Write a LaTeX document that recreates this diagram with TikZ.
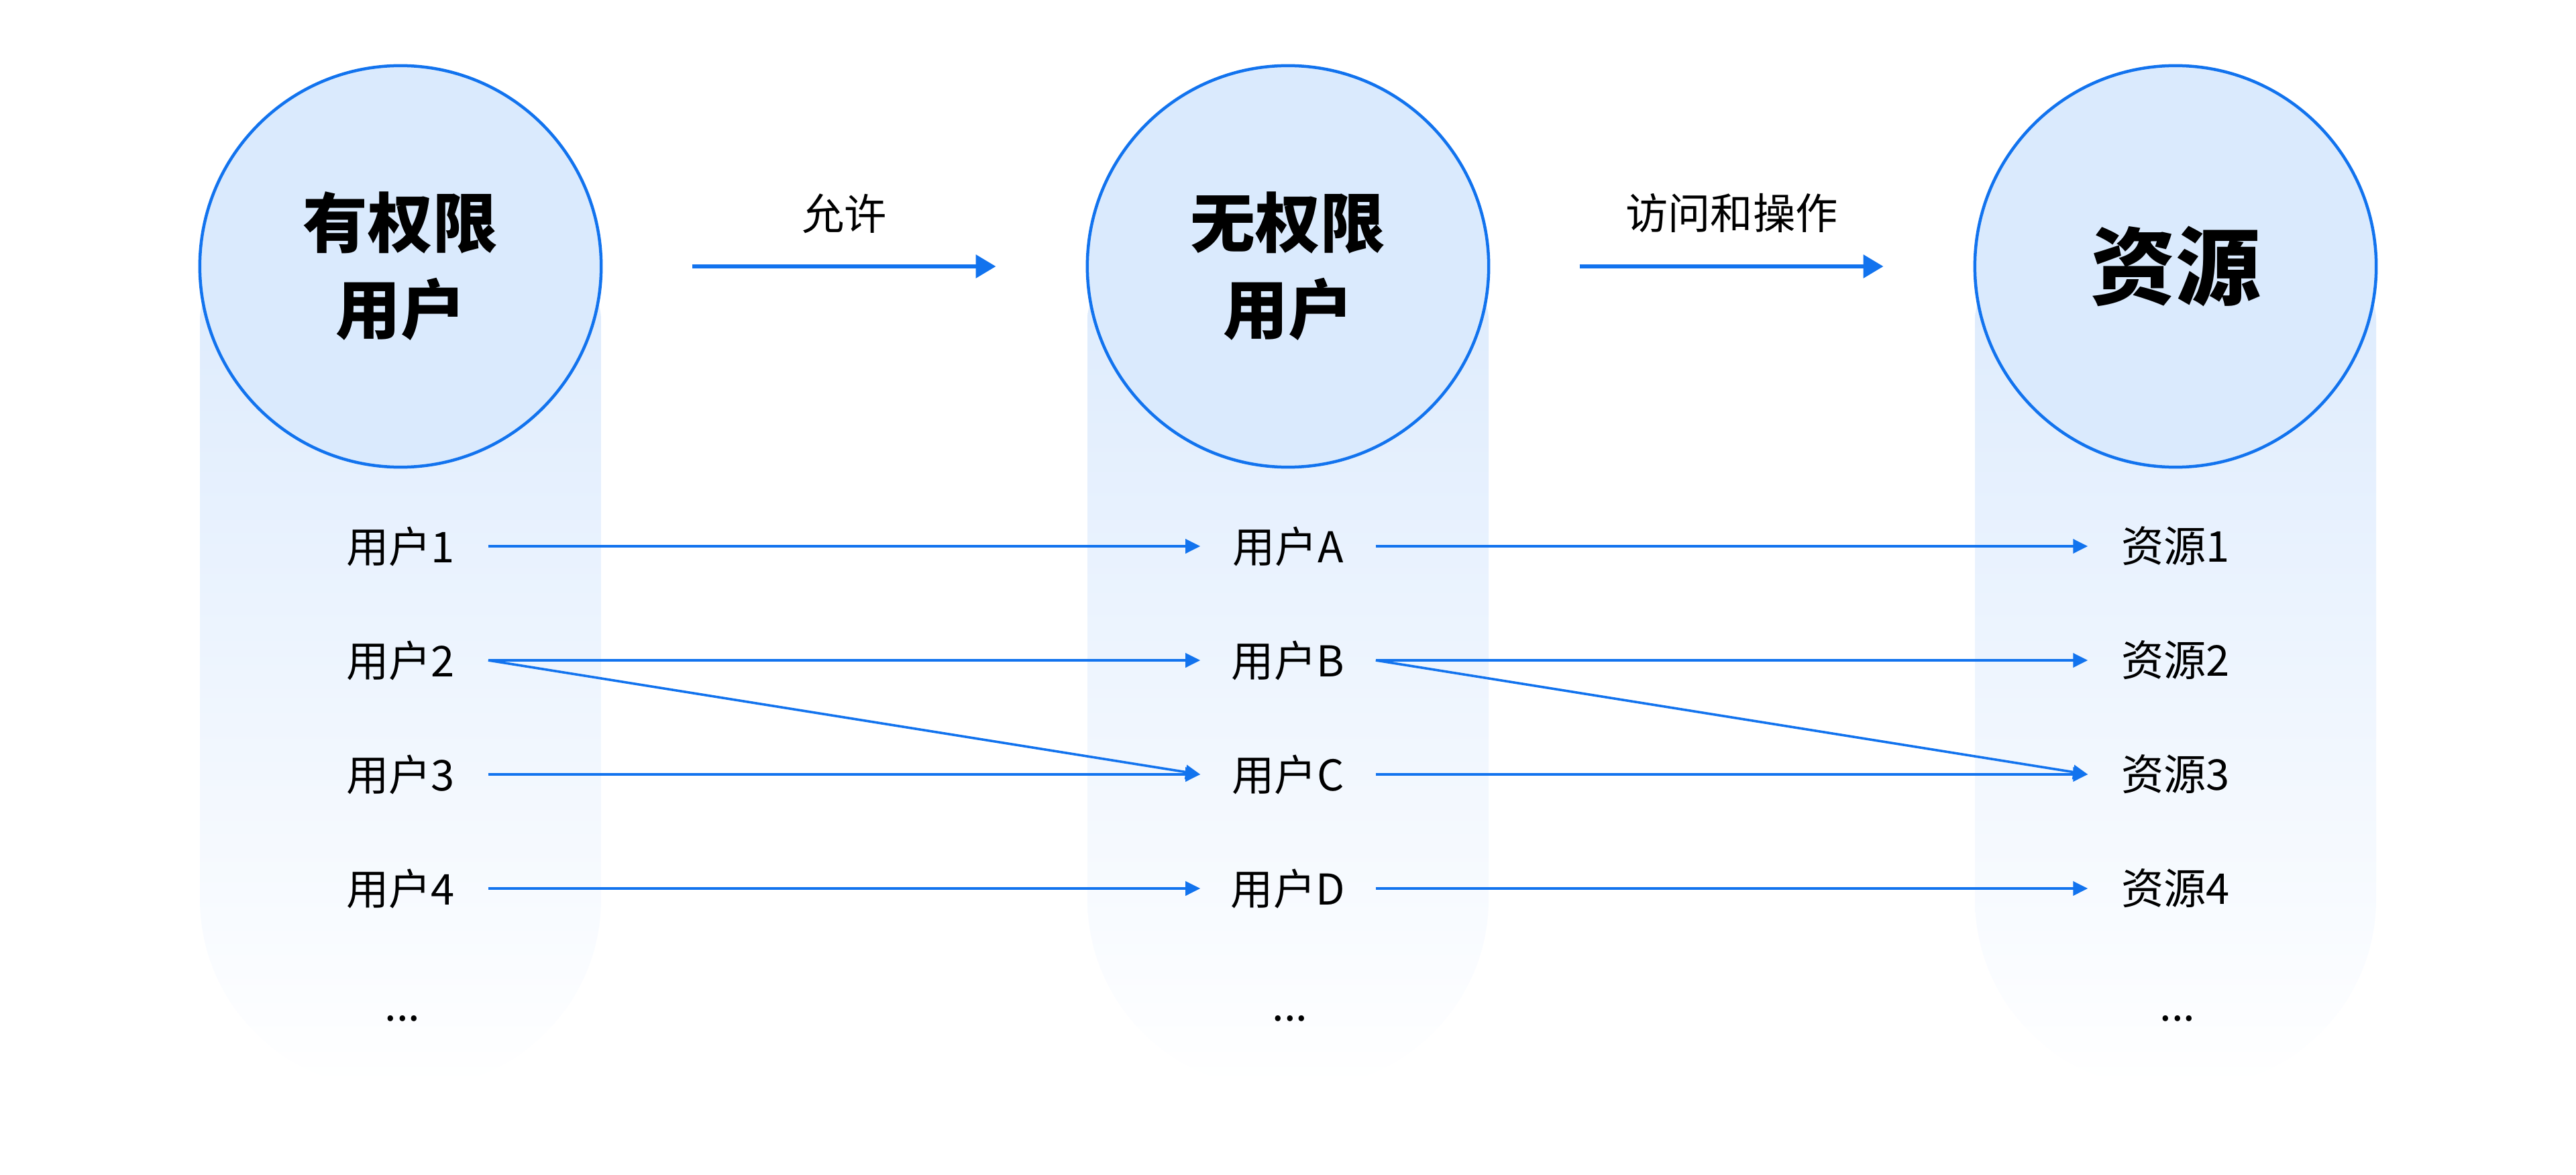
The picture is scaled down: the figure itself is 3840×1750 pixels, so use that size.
\documentclass[tikz,border=0pt]{standalone}
\usepackage{fontspec}
\setmainfont{Noto Sans CJK SC}
\usetikzlibrary{arrows.meta}
\definecolor{myblue}{HTML}{1273EE}
\definecolor{circfill}{HTML}{DAEAFD}
\definecolor{coltop}{HTML}{DDEBFD}
\definecolor{colmid}{HTML}{EEF5FE}
\tikzset{
  bigcircle/.style={circle, draw=myblue, line width=0.045cm, fill=circfill, minimum size=5.98cm, inner sep=0pt, align=center, text=black},
  bigtext/.style={font=\fontsize{27.5pt}{36.7pt}\selectfont\bfseries},
  hugetext/.style={font=\fontsize{36pt}{40pt}\selectfont\bfseries},
  rowlabel/.style={font=\fontsize{18pt}{20pt}\selectfont, minimum width=2.6cm, inner sep=0pt, text=black},
  toplabel/.style={font=\fontsize{18pt}{20pt}\selectfont, inner sep=0pt, text=black},
  toparrow/.style={draw=myblue, line width=0.06cm, -{Triangle[length=0.3cm,width=0.34cm]}, shorten <=1.33cm, shorten >=1.34cm},
  rowarrow/.style={draw=myblue, line width=0.036cm, -{Triangle[length=0.22cm,width=0.21cm]}},
}
\newcommand{\colshape}[1]{%
  \path[top color=coltop, middle color=colmid, bottom color=white]
    ({#1-299},1273) -- ({#1-299},410) arc[start angle=180,end angle=270,radius=280]
    -- ({#1+19},130) arc[start angle=270,end angle=360,radius=280]
    -- ({#1+299},1273) arc[start angle=0,end angle=90,radius=80]
    -- ({#1-219},1353) arc[start angle=90,end angle=180,radius=80] -- cycle;}
\begin{document}
\begin{tikzpicture}[x=0.01cm,y=0.01cm]
\useasboundingbox (0,0) rectangle (3840,1750);
\fill[white] (0,0) rectangle (3840,1750);
\colshape{597}
\colshape{1920}
\colshape{3243}
% circles
\node[bigcircle, bigtext] (c1) at (597,1353) {有权限\\用户};
\node[bigcircle, bigtext] (c2) at (1920,1353) {无权限\\用户};
\node[bigcircle, hugetext] (c3) at (3243,1353) {资源};
% top arrows
\draw[toparrow] (c1.east) -- (c2.west) node[toplabel, midway, yshift=0.79cm] (l1) {允许};
\draw[toparrow] (c2.east) -- (c3.west) node[toplabel, midway, yshift=0.79cm] (l2) {访问和操作};
% rows
\node[rowlabel] (u1) at (597,936) {用户1};
\node[rowlabel] (u2) at (597,766) {用户2};
\node[rowlabel] (u3) at (597,596) {用户3};
\node[rowlabel] (u4) at (597,426) {用户4};
\node[rowlabel] (ud) at (600,232) {...};
\node[rowlabel] (ua) at (1920,936) {用户A};
\node[rowlabel] (ub) at (1920,766) {用户B};
\node[rowlabel] (uc) at (1920,596) {用户C};
\node[rowlabel] (udd) at (1920,426) {用户D};
\node[rowlabel] (ue) at (1923,232) {...};
\node[rowlabel] (r1) at (3243,936) {资源1};
\node[rowlabel] (r2) at (3243,766) {资源2};
\node[rowlabel] (r3) at (3243,596) {资源3};
\node[rowlabel] (r4) at (3243,426) {资源4};
\node[rowlabel] (rd) at (3246,232) {...};
% row arrows
\draw[rowarrow] (u1.east) -- (ua.west);
\draw[rowarrow] (u2.east) -- (ub.west);
\draw[rowarrow] (u2.east) -- (uc.west);
\draw[rowarrow] (u3.east) -- (uc.west);
\draw[rowarrow] (u4.east) -- (udd.west);
\draw[rowarrow] (ua.east) -- (r1.west);
\draw[rowarrow] (ub.east) -- (r2.west);
\draw[rowarrow] (ub.east) -- (r3.west);
\draw[rowarrow] (uc.east) -- (r3.west);
\draw[rowarrow] (udd.east) -- (r4.west);
\end{tikzpicture}
\end{document}
